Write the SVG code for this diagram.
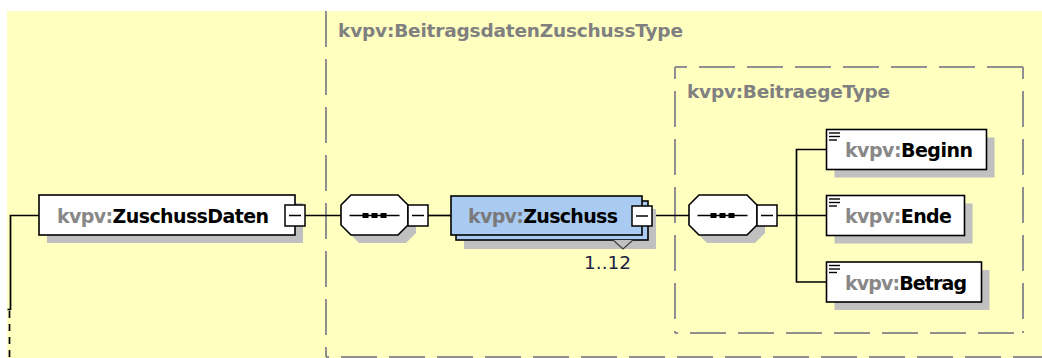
<svg xmlns="http://www.w3.org/2000/svg" width="1042" height="358" viewBox="0 0 1042 358">
<defs>
<style>
.bg{fill:#FFFFC0}
.frame{fill:none;stroke:#8f8f8f;stroke-width:2;stroke-dasharray:36 12}
.flabel{font-family:"DejaVu Sans",Verdana,sans-serif;font-weight:bold;font-size:18.5px;fill:#808080}
.shadow{fill:#c0c0c0}
.box{fill:#ffffff;stroke:#000000;stroke-width:1.6}
.rep{fill:#A9CBF2;stroke:#000000;stroke-width:1.6}
.lbl{font-family:"DejaVu Sans",Verdana,sans-serif;font-weight:bold;font-size:19px}
.ns{fill:#888888}
.ns2{fill:#7a7a7a}
.nm{fill:#000000}
.wire{fill:none;stroke:#000000;stroke-width:1.7}
.minus{fill:#ffffff;stroke:#000000;stroke-width:1.5}
.bar{stroke:#000000;stroke-width:1.5}
.sq{fill:#000000}
.icon{stroke:#000000;stroke-width:1.4}
.occ{font-family:"DejaVu Sans",Verdana,sans-serif;font-size:18.5px;fill:#222244}
</style>
</defs>
<rect class="bg" x="7" y="11" width="1035" height="347"/>

<g id="frames">
<path class="frame" d="M326,11 V357" stroke-dashoffset="0"/>
<path class="frame" d="M326,357 H1042" stroke-dashoffset="33"/>
<text class="flabel" x="338" y="37" textLength="345">kvpv:BeitragsdatenZuschussType</text>
<path class="frame" d="M675,67 H1023" stroke-dashoffset="24"/>
<path class="frame" d="M1023,67 V333" stroke-dashoffset="24"/>
<path class="frame" d="M675,67 V333" stroke-dashoffset="24"/>
<path class="frame" d="M675,333 H1023" stroke-dashoffset="33"/>
<text class="flabel" x="687" y="98" textLength="203">kvpv:BeitraegeType</text>
</g>

<g id="connectors">
<path class="wire" d="M39,215.5 H10.5 V310"/>
<path class="wire" d="M7.5,309.5 H11"/>
<path class="wire" d="M9.5,311 V358" stroke-dasharray="7 6" stroke-width="2"/>
<path class="wire" d="M305,215.5 H341"/>
<path class="wire" d="M428,215.5 H451"/>
<path class="wire" d="M652,215.5 H689"/>
<path class="wire" d="M777,215.5 H826.5"/>
<path class="wire" d="M826.5,149.5 H796.5 V282 H826.5"/>
</g>

<g id="node-zuschussdaten">
<rect class="shadow" x="47" y="203" width="256" height="40"/>
<rect class="box" x="39" y="195" width="256" height="40"/>
<text class="lbl" x="57" y="222.5" textLength="212"><tspan class="ns">kvpv:</tspan><tspan class="nm">ZuschussDaten</tspan></text>
<rect class="minus" x="285" y="205" width="20" height="21"/>
<line class="bar" x1="289" y1="215.5" x2="301" y2="215.5"/>
</g>

<g id="node-sequence-1">
<path class="shadow" d="M359,203 H406 L416,213 V233 L406,243 H359 L349,233 V213 Z"/>
<path class="box" d="M351,195 H398 L408,205 V225 L398,235 H351 L341,225 V205 Z"/>
<line class="bar" x1="349.5" y1="215.5" x2="399.5" y2="215.5"/>
<rect class="sq" x="362.5" y="213" width="6" height="5"/>
<rect class="sq" x="371.5" y="213" width="6" height="5"/>
<rect class="sq" x="380.5" y="213" width="6" height="5"/>
<rect class="minus" x="408" y="205" width="20" height="21"/>
<line class="bar" x1="412" y1="215.5" x2="424" y2="215.5"/>
</g>

<g id="node-zuschuss">
<rect class="shadow" x="464" y="209" width="192" height="40"/>
<rect class="rep" x="456" y="201" width="192" height="39"/>
<rect class="rep" x="451" y="196" width="191" height="39"/>
<polyline points="613,240 623,249 633,240" fill="#c0c0c0" stroke="#404040" stroke-width="1.2"/>
<text class="lbl" x="468" y="222.5" textLength="150"><tspan class="ns2">kvpv:</tspan><tspan class="nm">Zuschuss</tspan></text>
<rect class="minus" x="632" y="206" width="20" height="20"/>
<line class="bar" x1="636" y1="216" x2="648" y2="216"/>
<text class="occ" x="584" y="269">1..12</text>
</g>

<g id="node-sequence-2">
<path class="shadow" d="M707,203 H755 L765,213 V233 L755,243 H707 L697,233 V213 Z"/>
<path class="box" d="M699,195 H747 L757,205 V225 L747,235 H699 L689,225 V205 Z"/>
<line class="bar" x1="697.5" y1="215.5" x2="747.5" y2="215.5"/>
<rect class="sq" x="710.5" y="213" width="6" height="5"/>
<rect class="sq" x="719.5" y="213" width="6" height="5"/>
<rect class="sq" x="728.5" y="213" width="6" height="5"/>
<rect class="minus" x="757" y="205" width="20" height="21"/>
<line class="bar" x1="761" y1="215.5" x2="773" y2="215.5"/>
</g>

<g id="node-beginn">
<rect class="shadow" x="834.5" y="137.5" width="160" height="40"/>
<rect class="box" x="826.5" y="129.5" width="160" height="40"/>
<line class="icon" x1="829" y1="133" x2="840" y2="133"/>
<line class="icon" x1="829" y1="136.5" x2="840" y2="136.5"/>
<line class="icon" x1="829" y1="140" x2="837" y2="140"/>
<text class="lbl" x="845" y="157" textLength="128"><tspan class="ns">kvpv:</tspan><tspan class="nm">Beginn</tspan></text>
</g>

<g id="node-ende">
<rect class="shadow" x="834.5" y="203.5" width="138" height="40"/>
<rect class="box" x="826.5" y="195.5" width="138" height="40"/>
<line class="icon" x1="829" y1="199" x2="840" y2="199"/>
<line class="icon" x1="829" y1="202.5" x2="840" y2="202.5"/>
<line class="icon" x1="829" y1="206" x2="837" y2="206"/>
<text class="lbl" x="845" y="223" textLength="107"><tspan class="ns">kvpv:</tspan><tspan class="nm">Ende</tspan></text>
</g>

<g id="node-betrag">
<rect class="shadow" x="834.5" y="270" width="155" height="40"/>
<rect class="box" x="826.5" y="262" width="155" height="40"/>
<line class="icon" x1="829" y1="265.5" x2="840" y2="265.5"/>
<line class="icon" x1="829" y1="269" x2="840" y2="269"/>
<line class="icon" x1="829" y1="272.5" x2="837" y2="272.5"/>
<text class="lbl" x="845" y="289.5" textLength="122"><tspan class="ns">kvpv:</tspan><tspan class="nm">Betrag</tspan></text>
</g>
</svg>
